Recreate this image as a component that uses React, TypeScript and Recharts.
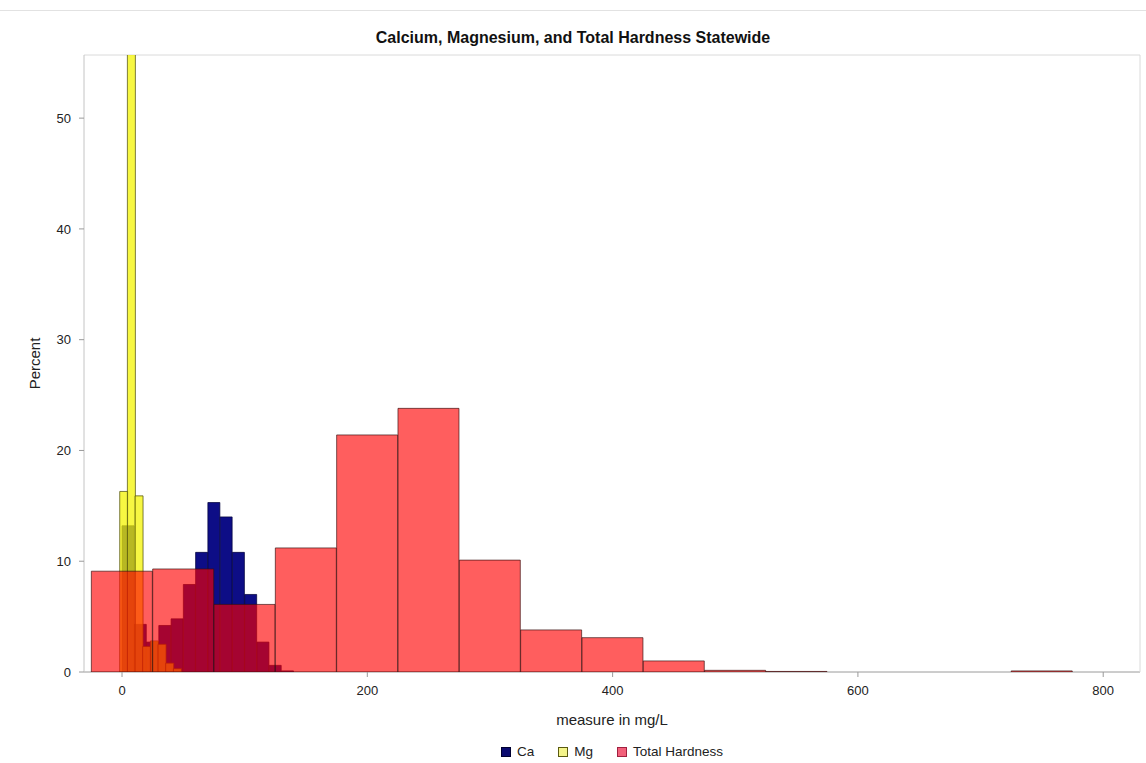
import React from "react";
import { BarChart, Bar, XAxis, YAxis } from "recharts";

// Histogram bins: midpoints (mg/L) and percent of samples in each bin.
const thMidpoints = [0, 50, 100, 150, 200, 250, 300, 350, 400, 450, 500, 550, 750];
const thPercent = [9.1, 9.3, 6.1, 11.2, 21.4, 23.8, 10.1, 3.8, 3.1, 1.0, 0.15, 0.05, 0.1];

const caMidpoints = [5, 15, 25, 35, 45, 55, 65, 75, 85, 95, 105, 115, 125, 135];
const caPercent = [13.2, 4.3, 2.7, 4.2, 4.8, 7.9, 10.8, 15.3, 14.0, 10.8, 7.0, 2.7, 0.6, 0.1];

const mgMidpoints = [1.25, 7.5, 13.75, 20, 26.25, 32.5, 38.75, 45];
const mgPercent = [16.3, 58.0, 15.9, 2.3, 2.8, 2.5, 0.8, 0.3];

const xTicks = [0, 200, 400, 600, 800];
const yTicks = [0, 10, 20, 30, 40, 50];
const X_DOMAIN: [number, number] = [-31, 830];
const Y_DOMAIN: [number, number] = [0, 55.7];

const FONT = "'Liberation Sans', Arial, Helvetica, sans-serif";
const W = 1146;
const H = 763;
// plot area: left 84, right 1140, top 55, bottom 672
const PLOT_MARGIN = { top: 55, right: 6, left: 84, bottom: 91 };

const toRows = (mids: number[], vals: number[]) => mids.map((x, i) => ({ x, pct: vals[i] }));

type SeriesStyle = {
  name: string;
  fill: string;
  fillOpacity: number;
  stroke: string;
  strokeOpacity: number;
};

const caStyle: SeriesStyle = { name: "Ca", fill: "#000080", fillOpacity: 0.95, stroke: "#00003a", strokeOpacity: 0.8 };
const mgStyle: SeriesStyle = { name: "Mg", fill: "#f4f400", fillOpacity: 0.74, stroke: "#4a4a10", strokeOpacity: 0.8 };
const thStyle: SeriesStyle = { name: "Total Hardness", fill: "#ff0000", fillOpacity: 0.63, stroke: "#3a1010", strokeOpacity: 0.75 };

const layer: React.CSSProperties = { position: "absolute", left: 0, top: 0, width: W, height: H };

function HistogramLayer({ rows, s }: { rows: { x: number; pct: number }[]; s: SeriesStyle }) {
  return (
    <div style={layer}>
      <BarChart width={W} height={H} data={rows} margin={PLOT_MARGIN} barCategoryGap={0} barGap={0}>
        <XAxis dataKey="x" type="number" domain={X_DOMAIN} allowDataOverflow hide />
        <YAxis type="number" domain={Y_DOMAIN} allowDataOverflow hide />
        <Bar
          dataKey="pct"
          name={s.name}
          fill={s.fill}
          fillOpacity={s.fillOpacity}
          stroke={s.stroke}
          strokeOpacity={s.strokeOpacity}
          strokeWidth={0.9}
          isAnimationActive={false}
        />
      </BarChart>
    </div>
  );
}

const legendItems = [
  { label: "Ca", fill: "#0a0a70", border: "#000030" },
  { label: "Mg", fill: "#f4f48a", border: "#5a5a10" },
  { label: "Total Hardness", fill: "#f2607a", border: "#a02040" },
];

function Frame() {
  return (
    <div style={layer}>
      <BarChart
        width={W}
        height={H}
        data={toRows(thMidpoints, thPercent)}
        margin={{ top: 54, right: 5, left: 0, bottom: 31 }}
      >
        <XAxis
          dataKey="x"
          type="number"
          domain={X_DOMAIN}
          ticks={xTicks}
          allowDataOverflow
          height={60}
          tickSize={5}
          tickMargin={9}
          axisLine={{ stroke: "#9a9a9a" }}
          tickLine={{ stroke: "#9a9a9a" }}
          tick={{ fill: "#222", fontSize: 13, fontFamily: FONT }}
          label={{
            value: "measure in mg/L",
            position: "insideBottom",
            offset: 7,
            style: { fill: "#222", fontSize: 15, fontFamily: FONT },
          }}
        />
        <XAxis
          xAxisId="top"
          orientation="top"
          dataKey="x"
          type="number"
          domain={X_DOMAIN}
          allowDataOverflow
          height={1}
          tick={false}
          tickLine={false}
          axisLine={{ stroke: "#dadada" }}
        />
        <YAxis
          type="number"
          domain={Y_DOMAIN}
          ticks={yTicks}
          allowDataOverflow
          width={84}
          tickSize={5}
          tickMargin={8}
          axisLine={{ stroke: "#c4c4c4" }}
          tickLine={{ stroke: "#9a9a9a" }}
          tick={{ fill: "#222", fontSize: 13, fontFamily: FONT }}
          label={{
            value: "Percent",
            angle: -90,
            position: "insideLeft",
            offset: 35,
            style: { textAnchor: "middle", fill: "#222", fontSize: 15, fontFamily: FONT },
          }}
        />
        <YAxis
          yAxisId="right"
          orientation="right"
          type="number"
          domain={Y_DOMAIN}
          allowDataOverflow
          width={1}
          tick={false}
          tickLine={false}
          axisLine={{ stroke: "#dadada" }}
        />
      </BarChart>
    </div>
  );
}

export default function App() {
  return (
    <div
      style={{
        position: "absolute",
        left: 0,
        top: 0,
        width: W,
        height: H,
        background: "#fff",
        fontFamily: FONT,
        overflow: "hidden",
      }}
    >
      <div style={{ position: "absolute", left: 0, top: 10, width: W, height: 1, background: "#e2e2e2" }} />
      <div
        style={{
          position: "absolute",
          left: 0,
          top: 29,
          width: W,
          textAlign: "center",
          fontWeight: "bold",
          fontSize: 16,
          lineHeight: "18px",
          color: "#111",
        }}
      >
        Calcium, Magnesium, and Total Hardness Statewide
      </div>

      <Frame />
      <HistogramLayer rows={toRows(caMidpoints, caPercent)} s={caStyle} />
      <HistogramLayer rows={toRows(mgMidpoints, mgPercent)} s={mgStyle} />
      <HistogramLayer rows={toRows(thMidpoints, thPercent)} s={thStyle} />

      <div
        style={{
          position: "absolute",
          left: 84,
          top: 743,
          width: 1056,
          display: "flex",
          justifyContent: "center",
          alignItems: "center",
          fontSize: 13.5,
          lineHeight: "18px",
          color: "#222",
        }}
      >
        {legendItems.map((it, i) => (
          <div key={it.label} style={{ display: "flex", alignItems: "center", marginLeft: i === 0 ? 0 : 24 }}>
            <span
              style={{
                display: "inline-block",
                width: 8,
                height: 8,
                background: it.fill,
                border: `1px solid ${it.border}`,
                marginRight: 6,
              }}
            />
            <span>{it.label}</span>
          </div>
        ))}
      </div>
    </div>
  );
}
